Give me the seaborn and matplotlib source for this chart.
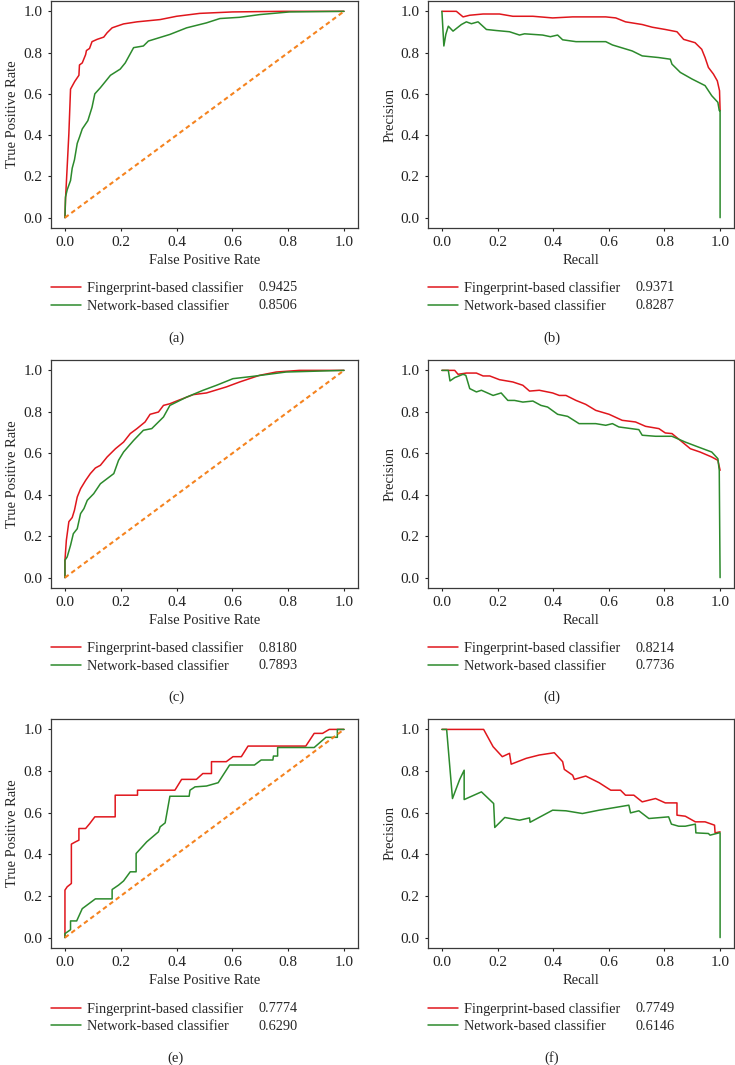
import pandas as pd
import seaborn as sns
import matplotlib.pyplot as plt
from matplotlib.lines import Line2D

models = ["Fingerprint-based classifier", "Network-based classifier"]
palette = {models[0]: "#e0161c", models[1]: "#2c8a2c"}
diag_color = "#f5831f"

# (a) ROC
a_fp_x = [0, 0.002, 0.008, 0.014, 0.02, 0.035, 0.05, 0.052, 0.062, 0.074, 0.077, 0.088, 0.097, 0.115, 0.139,
          0.151, 0.169, 0.186, 0.21, 0.258, 0.341, 0.40, 0.483, 0.60, 0.78, 1.0]
a_fp_y = [0, 0.09, 0.247, 0.407, 0.623, 0.66, 0.69, 0.74, 0.75, 0.79, 0.81, 0.82, 0.853, 0.864, 0.875,
          0.896, 0.92, 0.928, 0.939, 0.949, 0.96, 0.976, 0.99, 0.997, 1.0, 1.0]
a_nw_x = [0, 0.002, 0.008, 0.02, 0.026, 0.034, 0.044, 0.052, 0.062, 0.082, 0.097, 0.107, 0.127, 0.163, 0.198,
          0.216, 0.246, 0.281, 0.299, 0.376, 0.436, 0.507, 0.555, 0.626, 0.697, 0.804, 1.0]
a_nw_y = [0, 0.1, 0.135, 0.18, 0.24, 0.28, 0.36, 0.39, 0.43, 0.47, 0.535, 0.6, 0.63, 0.69, 0.72,
          0.75, 0.824, 0.832, 0.856, 0.888, 0.92, 0.944, 0.965, 0.971, 0.984, 0.997, 1.0]
a_scores = ["0.9425", "0.8506"]

# (b) PR
b_fp_x = [0, 0.052, 0.076, 0.10, 0.148, 0.207, 0.255, 0.327, 0.398, 0.47, 0.589, 0.625, 0.66, 0.72, 0.756,
          0.803, 0.845, 0.869, 0.91, 0.934, 0.946, 0.958, 0.976, 0.99, 0.998, 1.0]
b_fp_y = [1.0, 1.0, 0.973, 0.981, 0.987, 0.987, 0.976, 0.976, 0.968, 0.973, 0.973, 0.968, 0.949, 0.936, 0.923,
          0.912, 0.901, 0.864, 0.848, 0.816, 0.776, 0.728, 0.696, 0.663, 0.615, 0.519]
b_nw_x = [0, 0.007, 0.014, 0.023, 0.04, 0.07, 0.088, 0.106, 0.13, 0.16, 0.195, 0.243, 0.279, 0.297, 0.362,
          0.39, 0.416, 0.434, 0.482, 0.589, 0.613, 0.684, 0.72, 0.779, 0.821, 0.827, 0.857, 0.899, 0.946,
          0.97, 0.992, 0.997, 1.0, 1.0]
b_nw_y = [1.0, 0.832, 0.888, 0.928, 0.904, 0.936, 0.949, 0.94, 0.949, 0.912, 0.907, 0.901, 0.885, 0.891, 0.885,
          0.877, 0.885, 0.862, 0.853, 0.853, 0.837, 0.808, 0.784, 0.776, 0.768, 0.744, 0.704, 0.672, 0.64,
          0.591, 0.559, 0.519, 0.519, 0.0]
b_scores = ["0.9371", "0.8287"]

# (c) ROC
c_fp_x = [0, 0, 0.005, 0.014, 0.026, 0.034, 0.044, 0.056, 0.074, 0.091, 0.109, 0.127, 0.151, 0.181, 0.21,
          0.234, 0.258, 0.287, 0.305, 0.335, 0.353, 0.376, 0.40, 0.46, 0.507, 0.578, 0.626, 0.697, 0.757,
          0.84, 1.0]
c_fp_y = [0, 0.084, 0.18, 0.27, 0.29, 0.325, 0.389, 0.429, 0.469, 0.502, 0.529, 0.542, 0.582, 0.622, 0.654,
          0.695, 0.719, 0.751, 0.788, 0.799, 0.831, 0.839, 0.852, 0.883, 0.891, 0.92, 0.944, 0.976, 0.992,
          1.0, 1.0]
c_nw_x = [0, 0, 0.008, 0.02, 0.03, 0.044, 0.056, 0.068, 0.08, 0.103, 0.127, 0.175, 0.192, 0.21, 0.246,
          0.281, 0.311, 0.353, 0.376, 0.40, 0.436, 0.495, 0.543, 0.602, 0.673, 0.792, 1.0]
c_nw_y = [0, 0.084, 0.1, 0.156, 0.212, 0.236, 0.309, 0.333, 0.373, 0.405, 0.453, 0.502, 0.566, 0.606, 0.662,
          0.711, 0.719, 0.775, 0.831, 0.847, 0.871, 0.904, 0.928, 0.96, 0.971, 0.992, 1.0]
c_scores = ["0.8180", "0.7893"]

# (d) PR
d_fp_x = [0, 0.046, 0.058, 0.088, 0.124, 0.148, 0.172, 0.207, 0.255, 0.291, 0.315, 0.35, 0.398, 0.422, 0.446,
          0.482, 0.517, 0.553, 0.601, 0.648, 0.696, 0.732, 0.78, 0.803, 0.827, 0.857, 0.893, 0.928, 0.97,
          0.992, 1.0]
d_fp_y = [1, 1, 0.981, 0.987, 0.987, 0.973, 0.973, 0.955, 0.944, 0.928, 0.9, 0.904, 0.891, 0.879, 0.879,
          0.855, 0.836, 0.807, 0.788, 0.759, 0.751, 0.73, 0.719, 0.698, 0.695, 0.662, 0.622, 0.606, 0.582,
          0.566, 0.518]
d_nw_x = [0, 0.023, 0.029, 0.046, 0.076, 0.086, 0.1, 0.124, 0.142, 0.184, 0.213, 0.237, 0.261, 0.291, 0.327,
          0.356, 0.38, 0.416, 0.452, 0.493, 0.553, 0.589, 0.613, 0.636, 0.708, 0.72, 0.768, 0.827, 0.875,
          0.922, 0.97, 0.992, 0.997, 1.0]
d_nw_y = [1, 1, 0.949, 0.965, 0.981, 0.976, 0.912, 0.896, 0.904, 0.879, 0.891, 0.855, 0.855, 0.847, 0.852,
          0.831, 0.823, 0.788, 0.778, 0.743, 0.743, 0.735, 0.743, 0.727, 0.714, 0.687, 0.682, 0.682, 0.654,
          0.63, 0.606, 0.574, 0.518, 0.0]
d_scores = ["0.8214", "0.7736"]

# (e) ROC
e_fp_x = [0, 0, 0.008, 0.023, 0.023, 0.038, 0.05, 0.05, 0.074, 0.089, 0.107, 0.18, 0.18, 0.26, 0.26, 0.394,
          0.418, 0.471, 0.494, 0.525, 0.525, 0.578, 0.602, 0.632, 0.656, 0.863, 0.893, 0.923, 0.947, 1.0]
e_fp_y = [0, 0.228, 0.244, 0.26, 0.449, 0.46, 0.468, 0.524, 0.524, 0.548, 0.58, 0.58, 0.684, 0.684, 0.708,
          0.708, 0.76, 0.76, 0.788, 0.788, 0.845, 0.845, 0.869, 0.869, 0.92, 0.92, 0.981, 0.981, 1.0, 1.0]
e_nw_x = [0, 0, 0.02, 0.02, 0.042, 0.062, 0.086, 0.109, 0.169, 0.169, 0.192, 0.21, 0.234, 0.255, 0.255,
          0.293, 0.335, 0.341, 0.359, 0.376, 0.445, 0.448, 0.466, 0.507, 0.549, 0.59, 0.679, 0.703, 0.745,
          0.747, 0.762, 0.762, 0.893, 0.935, 0.976, 0.976, 1.0]
e_nw_y = [0, 0.019, 0.038, 0.08, 0.08, 0.139, 0.163, 0.186, 0.186, 0.231, 0.252, 0.272, 0.316, 0.316, 0.404,
          0.46, 0.508, 0.532, 0.551, 0.679, 0.679, 0.708, 0.724, 0.728, 0.744, 0.829, 0.829, 0.853, 0.853,
          0.872, 0.872, 0.913, 0.913, 0.962, 0.962, 1.0, 1.0]
e_scores = ["0.7774", "0.6290"]

# (f) PR
f_fp_x = [0, 0.15, 0.184, 0.217, 0.243, 0.249, 0.303, 0.35, 0.404, 0.434, 0.44, 0.47, 0.476, 0.517, 0.565,
          0.607, 0.642, 0.66, 0.69, 0.72, 0.768, 0.803, 0.845, 0.845, 0.875, 0.911, 0.946, 0.98, 0.982, 1.0]
f_fp_y = [1.0, 1.0, 0.917, 0.869, 0.885, 0.833, 0.861, 0.877, 0.888, 0.845, 0.808, 0.78, 0.76, 0.776, 0.744,
          0.708, 0.708, 0.684, 0.684, 0.652, 0.668, 0.647, 0.647, 0.588, 0.583, 0.556, 0.556, 0.54, 0.503, 0.508]
f_nw_x = [0, 0.017, 0.038, 0.064, 0.08, 0.08, 0.142, 0.186, 0.19, 0.226, 0.279, 0.315, 0.317, 0.398, 0.446,
          0.505, 0.565, 0.672, 0.678, 0.708, 0.744, 0.815, 0.825, 0.851, 0.875, 0.911, 0.913, 0.958, 0.964,
          0.996, 1.0, 1.0]
f_nw_y = [1.0, 1.0, 0.668, 0.76, 0.804, 0.663, 0.7, 0.644, 0.529, 0.577, 0.564, 0.575, 0.554, 0.612, 0.609,
          0.596, 0.612, 0.636, 0.599, 0.609, 0.572, 0.58, 0.545, 0.535, 0.535, 0.545, 0.503, 0.5, 0.492,
          0.503, 0.503, 0.0]
f_scores = ["0.7749", "0.6146"]

panels = [
    ("a", "roc", (a_fp_x, a_fp_y), (a_nw_x, a_nw_y), a_scores),
    ("b", "pr", (b_fp_x, b_fp_y), (b_nw_x, b_nw_y), b_scores),
    ("c", "roc", (c_fp_x, c_fp_y), (c_nw_x, c_nw_y), c_scores),
    ("d", "pr", (d_fp_x, d_fp_y), (d_nw_x, d_nw_y), d_scores),
    ("e", "roc", (e_fp_x, e_fp_y), (e_nw_x, e_nw_y), e_scores),
    ("f", "pr", (f_fp_x, f_fp_y), (f_nw_x, f_nw_y), f_scores),
]

sns.set_theme(style="white")
plt.rcParams["font.family"] = ["Liberation Serif", "DejaVu Serif"]
plt.rcParams["font.size"] = 10

W, H = 735, 1065
fig = plt.figure(figsize=(W / 100, H / 100), dpi=100)

# axes boxes in pixels: left, right, top, bottom
col_lr = [(51, 358), (428, 734)]
row_tb = [(1, 228), (360, 588), (719, 948)]
label_y = [338, 697, 1058]
label_x = [176, 552]

for i, (tag, kind, fp, nw, scores) in enumerate(panels):
    r, c = divmod(i, 2)
    l, rt = col_lr[c]
    t, b = row_tb[r]
    ax = fig.add_axes([l / W, 1 - b / H, (rt - l) / W, (b - t) / H])

    df = pd.concat([
        pd.DataFrame({"x": fp[0], "y": fp[1], "model": models[0]}),
        pd.DataFrame({"x": nw[0], "y": nw[1], "model": models[1]}),
    ], ignore_index=True)
    sns.lineplot(data=df, x="x", y="y", hue="model", palette=palette, sort=False,
                 estimator=None, linewidth=1.1, legend=False, ax=ax)
    if kind == "roc":
        ax.plot([0, 1], [0, 1], color=diag_color, linestyle=(0, (2.2, 1.6)), linewidth=1.5)
        ax.set_xlabel("False Positive Rate", fontsize=10.5, labelpad=3.5)
        ax.set_ylabel("True Positive Rate", fontsize=10.5, labelpad=3)
    else:
        ax.set_xlabel("Recall", fontsize=10.5, labelpad=3.5)
        ax.set_ylabel("Precision", fontsize=10.5, labelpad=3)

    ax.set_xlim(-0.05, 1.05)
    ax.set_ylim(-0.05, 1.05)
    ax.set_xticks([0, 0.2, 0.4, 0.6, 0.8, 1.0])
    ax.set_yticks([0, 0.2, 0.4, 0.6, 0.8, 1.0])
    ax.xaxis.set_major_formatter(plt.FormatStrFormatter("%.1f"))
    ax.yaxis.set_major_formatter(plt.FormatStrFormatter("%.1f"))
    ax.tick_params(axis="both", which="major", length=2.5, width=0.8, pad=3.5,
                   labelsize=11, colors="#222222", direction="out", bottom=True, left=True)
    for sp in ax.spines.values():
        sp.set_color("#3a3a3a")
        sp.set_linewidth(0.9)

    handles = [Line2D([], [], color=palette[m], linewidth=1.1) for m in models]
    leg = ax.legend(handles, models, loc="upper left", bbox_to_anchor=(0, -0.235),
                    frameon=False, fontsize=10.3, handlelength=2.1, handletextpad=0.45,
                    borderpad=0, borderaxespad=0, labelspacing=0.33)
    ax.add_artist(leg)
    blanks = [Line2D([], [], alpha=0) for _ in models]
    ax.legend(blanks, scores, loc="upper left", bbox_to_anchor=(0.677, -0.235),
              frameon=False, fontsize=10.3, handlelength=0, handletextpad=0,
              borderpad=0, borderaxespad=0, labelspacing=0.33)

    fig.text(label_x[c] / W, 1 - label_y[r] / H, f"({tag})", ha="center", va="center", fontsize=10.5)

fig.savefig("out.png", dpi=100)
